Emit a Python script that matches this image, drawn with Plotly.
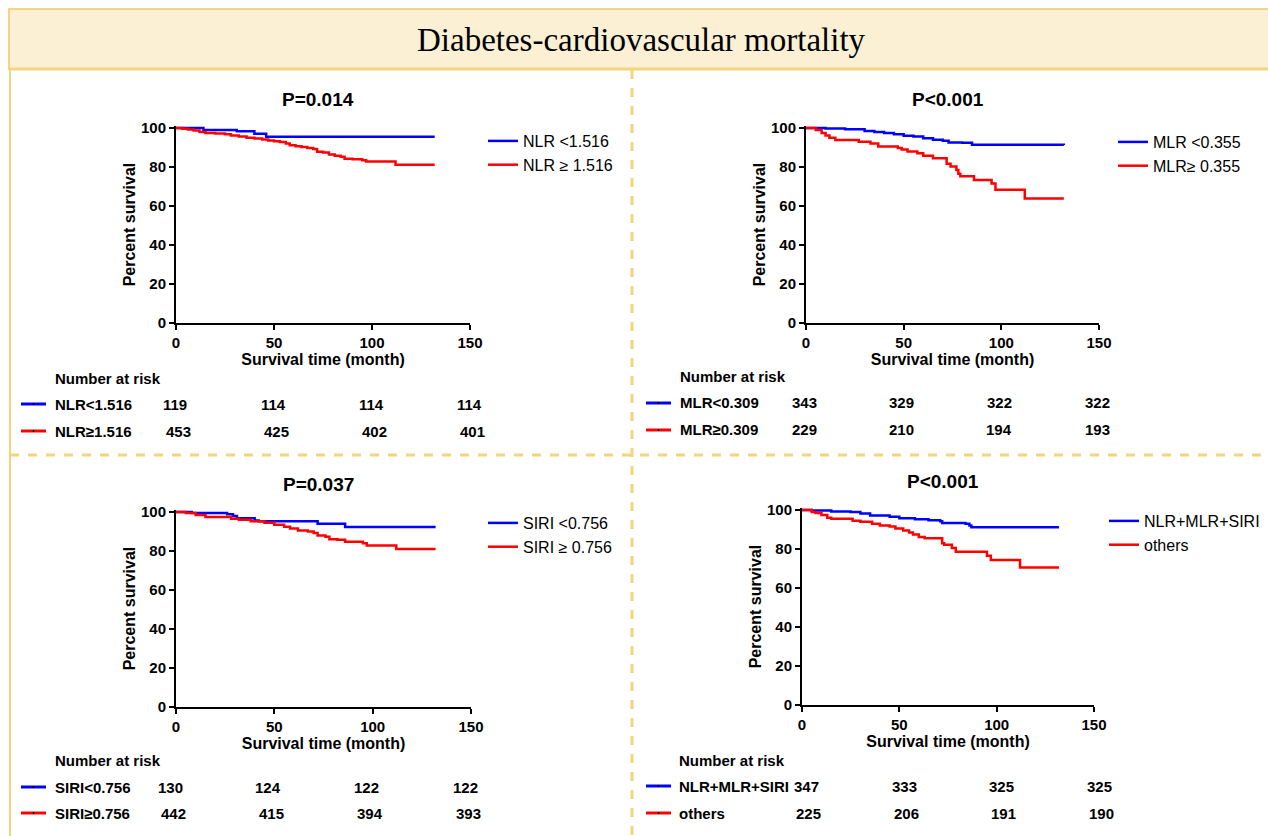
import plotly.graph_objects as go

W, H = 1268, 836

# ---------------- data ----------------
nlr_low_t = [0, 14, 31, 40, 46, 132]
nlr_low_s = [100, 99.0, 98.3, 97.0, 95.5, 95.5]
nlr_high_t = [0, 3, 6, 9, 12, 15, 20, 25, 28, 32, 36, 40, 44, 47, 50, 53, 56, 58, 61, 64, 67, 70, 72, 75, 78, 81, 84, 86, 90, 95, 97, 112, 132]
nlr_high_s = [100, 99.6, 99.2, 98.7, 98.0, 97.4, 97.2, 96.8, 96.2, 95.6, 95.0, 94.6, 94.1, 93.6, 93.2, 92.8, 92.0, 91.2, 90.6, 90.2, 89.8, 89.2, 87.8, 87.4, 86.4, 85.8, 85.2, 84.2, 84.0, 83.5, 82.8, 81.2, 81.2]

mlr_low_t = [0, 10, 20, 30, 35, 40, 45, 50, 55, 60, 65, 70, 73, 80, 85, 132]
mlr_low_s = [100, 99.7, 99.4, 98.5, 98.0, 97.5, 96.8, 96.0, 95.6, 94.7, 94.0, 93.5, 92.6, 92.4, 91.4, 91.3]
mlr_high_t = [0, 5, 8, 10, 12, 15, 27, 33, 37, 47, 49, 52, 57, 60, 65, 72, 74, 77, 78, 79, 86, 95, 97, 112, 132]
mlr_high_s = [100, 99.0, 97.5, 96.2, 95.0, 93.8, 92.9, 92.0, 90.5, 89.8, 89.0, 88.0, 87.0, 85.8, 84.5, 81.7, 80.3, 78.5, 76.5, 75.2, 73.3, 71.5, 68.3, 63.8, 63.8]

siri_low_t = [0, 8, 26, 29, 31, 40, 42, 72, 86, 132]
siri_low_s = [100, 99.5, 98.8, 98.0, 96.8, 95.7, 95.2, 94.0, 92.3, 92.3]
siri_high_t = [0, 5, 10, 15, 28, 32, 38, 45, 50, 55, 58, 62, 67, 70, 72, 76, 78, 82, 86, 95, 97, 112, 132]
siri_high_s = [100, 99.5, 98.5, 97.5, 96.5, 96.0, 95.2, 94.5, 93.5, 92.5, 91.5, 90.5, 90.0, 89.2, 88.0, 87.3, 86.0, 85.8, 84.7, 84.0, 82.8, 81.0, 81.0]

comb_low_t = [0, 5, 15, 25, 30, 35, 45, 50, 58, 65, 71, 72, 84, 86, 87, 132]
comb_low_s = [100, 99.7, 99.2, 99.0, 98.2, 97.2, 96.6, 95.8, 95.2, 94.7, 94.2, 93.3, 93.0, 92.0, 91.2, 91.2]
comb_high_t = [0, 5, 7, 10, 13, 15, 26, 30, 36, 40, 45, 48, 52, 55, 57, 60, 63, 72, 73, 77, 79, 95, 97, 112, 132]
comb_high_s = [100, 99.0, 98.5, 97.5, 96.0, 95.5, 94.5, 94.0, 93.0, 92.0, 91.5, 90.5, 89.5, 88.5, 87.5, 86.2, 85.5, 83.0, 82.2, 80.5, 78.6, 76.5, 74.3, 70.5, 70.5]

panel_titles = ["P=0.014", "P<0.001", "P=0.037", "P<0.001"]
legend_labels = [["NLR <1.516", "NLR \u2265 1.516"], ["MLR <0.355", "MLR\u2265 0.355"],
                 ["SIRI <0.756", "SIRI \u2265 0.756"], ["NLR+MLR+SIRI", "others"]]
risk_labels = [["NLR<1.516", "NLR\u22651.516"], ["MLR<0.309", "MLR\u22650.309"],
               ["SIRI<0.756", "SIRI\u22650.756"], ["NLR+MLR+SIRI", "others"]]
risk_times = [0, 50, 100, 150]
risk_numbers = [
    [[119, 114, 114, 114], [453, 425, 402, 401]],
    [[343, 329, 322, 322], [229, 210, 194, 193]],
    [[130, 124, 122, 122], [442, 415, 394, 393]],
    [[347, 333, 325, 325], [225, 206, 191, 190]],
]
curves = [
    [(nlr_low_t, nlr_low_s), (nlr_high_t, nlr_high_s)],
    [(mlr_low_t, mlr_low_s), (mlr_high_t, mlr_high_s)],
    [(siri_low_t, siri_low_s), (siri_high_t, siri_high_s)],
    [(comb_low_t, comb_low_s), (comb_high_t, comb_high_s)],
]

# ---------------- layout geometry (pixels) ----------------
geo = [
    dict(x0=176, x1=470, y0=323),
    dict(x0=806, x1=1099, y0=323),
    dict(x0=176, x1=471, y0=707),
    dict(x0=802, x1=1094, y0=705),
]
YPX = 1.95
YMAX = 101
legend_pos = [(483, 124), (1113, 125), (483, 506), (1104, 504)]
risk_pos = [
    dict(lx=53, k0=21, k1=46, hy=378, r1=404, r2=431, s1=-1, s2=2),
    dict(lx=678, k0=646, k1=671, hy=376, r1=403, r2=430, s1=-2, s2=-2),
    dict(lx=53, k0=21, k1=46, hy=760, r1=787, r2=813, s1=-6, s2=-3),
    dict(lx=677, k0=646, k1=671, hy=760, r1=786, r2=813, s1=5, s2=7),
]

FONT = "Liberation Sans, Arial, sans-serif"
BLUE = "#0000FF"
RED = "#FF0000"
GOLD = "#F4D57E"


def px(x):
    return x / W


def py(y):
    return 1 - y / H


fig = go.Figure()
annotations = []
shapes = []
layout = {}

for i in range(4):
    g = geo[i]
    n = "" if i == 0 else str(i + 1)
    xa, ya = "x" + n, "y" + n
    lg = "legend" if i == 0 else "legend" + str(i + 1)
    for j, (t, s) in enumerate(curves[i]):
        fig.add_trace(go.Scatter(
            x=t, y=s, mode="lines", line=dict(color=[BLUE, RED][j], width=2.5, shape="hv"),
            name=legend_labels[i][j], xaxis=xa, yaxis=ya, legend=lg, showlegend=True))
    ytop = g["y0"] - YMAX * YPX
    axis_common = dict(showgrid=False, zeroline=False, showline=True, linecolor="black", linewidth=2,
                       ticks="outside", ticklen=5, tickwidth=2, tickcolor="black", automargin=False,
                       tickfont=dict(family=FONT, size=15, color="black", weight="bold"))
    layout["xaxis" + n] = dict(domain=[px(g["x0"]), px(g["x1"])], range=[0, 150], tickvals=[0, 50, 100, 150],
                               anchor=ya, title=dict(text="Survival time (month)", standoff=3,
                                                     font=dict(family=FONT, size=16, color="black", weight="bold")),
                               **axis_common)
    layout["yaxis" + n] = dict(domain=[py(g["y0"]), py(ytop)], range=[0, YMAX], tickvals=[0, 20, 40, 60, 80, 100],
                               anchor=xa, title=dict(text="Percent survival", standoff=1,
                                                     font=dict(family=FONT, size=16, color="black", weight="bold")),
                               **axis_common)
    lx, ly = legend_pos[i]
    layout[lg] = dict(x=px(lx), y=py(ly), xanchor="left", yanchor="top", bgcolor="rgba(0,0,0,0)",
                      font=dict(family=FONT, size=16, color="black"), tracegroupgap=0, itemwidth=30)
    annotations.append(dict(text=panel_titles[i], xref=xa, x=75, yref="paper", y=py(g["y0"] - 223),
                            showarrow=False, xanchor="center", yanchor="middle", xshift=-5,
                            font=dict(family=FONT, size=19, color="black", weight="bold")))
    r = risk_pos[i]
    annotations.append(dict(text="Number at risk", xref="paper", x=px(r["lx"]), yref="paper", y=py(r["hy"]),
                            showarrow=False, xanchor="left", yanchor="middle",
                            font=dict(family=FONT, size=15, color="black", weight="bold")))
    for j in range(2):
        yy = r["r1"] if j == 0 else r["r2"]
        sh = r["s1"] if j == 0 else r["s2"]
        shapes.append(dict(type="line", xref="paper", yref="paper", x0=px(r["k0"]), x1=px(r["k1"]),
                           y0=py(yy), y1=py(yy), line=dict(color=[BLUE, RED][j], width=3)))
        cx = (r["k0"] + r["k1"]) / 2
        shapes.append(dict(type="line", xref="paper", yref="paper", x0=px(cx), x1=px(cx),
                           y0=py(yy - 1), y1=py(yy + 1), line=dict(color="black", width=1.5)))
        annotations.append(dict(text=risk_labels[i][j], xref="paper", x=px(r["lx"]), yref="paper", y=py(yy),
                                showarrow=False, xanchor="left", yanchor="middle",
                                font=dict(family=FONT, size=15, color="black", weight="bold")))
        for t, v in zip(risk_times, risk_numbers[i][j]):
            annotations.append(dict(text=str(v), xref=xa, x=t, yref="paper", y=py(yy), xshift=sh,
                                    showarrow=False, xanchor="center", yanchor="middle",
                                    font=dict(family=FONT, size=15, color="black", weight="bold")))

# header box
shapes.insert(0, dict(type="rect", xref="paper", yref="paper", x0=px(9), x1=px(1272), y0=py(69), y1=py(9),
                      fillcolor="#FCF0D4", line=dict(color=GOLD, width=2), layer="below"))
shapes.append(dict(type="line", xref="paper", yref="paper", x0=px(9), x1=px(1268), y0=py(69), y1=py(69),
                   line=dict(color=GOLD, width=3)))
shapes.append(dict(type="line", xref="paper", yref="paper", x0=px(10), x1=px(10), y0=py(69), y1=py(836),
                   line=dict(color=GOLD, width=2)))
shapes.append(dict(type="line", xref="paper", yref="paper", x0=px(632), x1=px(632), y0=py(70), y1=py(836),
                   line=dict(color=GOLD, width=3, dash="dash")))
shapes.append(dict(type="line", xref="paper", yref="paper", x0=px(10), x1=px(1268), y0=py(455), y1=py(455),
                   line=dict(color=GOLD, width=3, dash="dash")))

annotations.append(dict(text="Diabetes-cardiovascular mortality", xref="paper", yref="paper",
                        x=px(641), y=py(40), showarrow=False, xanchor="center", yanchor="middle",
                        font=dict(family="Liberation Serif, Times New Roman, serif", size=33, color="black")))

fig.update_layout(width=W, height=H, autosize=False,
                  margin=dict(l=0, r=0, t=0, b=0, pad=0, autoexpand=False), paper_bgcolor="white",
                  plot_bgcolor="rgba(0,0,0,0)", annotations=annotations, shapes=shapes, **layout)

post = ("document.documentElement.style.margin='0';document.documentElement.style.overflow='hidden';"
        "document.body.style.margin='0';document.body.style.overflow='hidden';")
fig.write_html("out.html", config={"displayModeBar": False}, post_script=post)
